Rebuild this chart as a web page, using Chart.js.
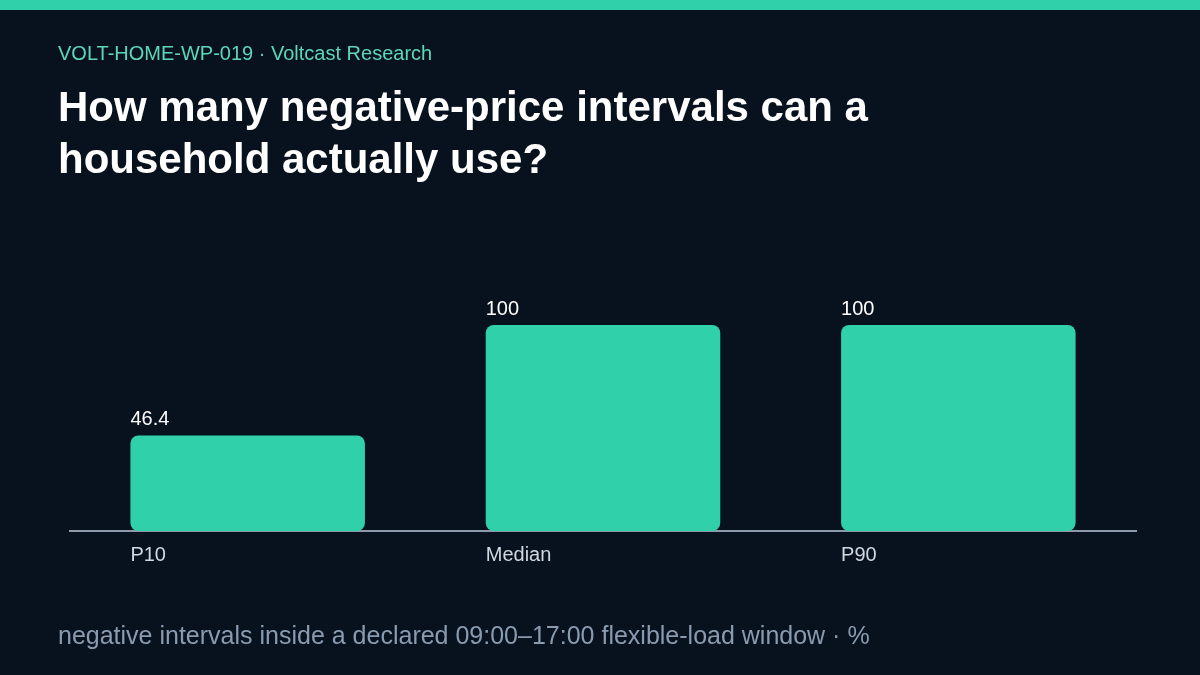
<!DOCTYPE html>
<html>
<head>
  <meta charset="utf-8" />
  <title>Negative-price intervals</title>
  <style>
    html, body { margin: 0; padding: 0; background: #08121e; }
    body { width: 1200px; height: 675px; position: relative; overflow: hidden; font-family: "Liberation Sans", Arial, sans-serif; }
    .stripe { position: absolute; left: 0; top: 0; width: 1200px; height: 10px; background: #2fd0aa; }
    .kicker { position: absolute; left: 58px; top: 41px; font-size: 20px; line-height: 24px; color: #5ed6b8; }
    h1 { position: absolute; left: 58px; top: 81px; margin: 0; font-size: 42px; line-height: 52px; font-weight: bold; color: #ffffff; }
    .note { position: absolute; left: 58px; top: 620px; font-size: 25px; line-height: 30px; color: #8a9bb0; }
    #stage { position: absolute; left: 0; top: 0; }
  </style>
</head>
<body>
  <div class="stripe"></div>
  <canvas id="stage" width="1200" height="675"></canvas>
  <div class="kicker">VOLT-HOME-WP-019 · Voltcast Research</div>
  <h1>How many negative-price intervals can a<br>household actually use?</h1>
  <div class="note">negative intervals inside a declared 09:00–17:00 flexible-load window · %</div>

  <script src="https://cdn.jsdelivr.net/npm/chart.js@4.4.0/dist/chart.umd.min.js"></script>
  <script>
    // 値
    const categories = ['P10', 'Median', 'P90'];
    const shares = [46.4, 100, 100];

    // バーの上の数値と下のカテゴリ名を左揃えで描く
    const barText = {
      id: 'barText',
      afterDatasetsDraw(chart) {
        const ctx = chart.ctx;
        const meta = chart.getDatasetMeta(0);
        ctx.save();
        ctx.font = '20px "Liberation Sans", Arial, sans-serif';
        ctx.textAlign = 'left';
        meta.data.forEach((bar, i) => {
          const left = bar.x - bar.width / 2;
          ctx.fillStyle = '#ffffff';
          ctx.textBaseline = 'bottom';
          ctx.fillText(String(shares[i]), left, bar.y - 6);
          ctx.fillStyle = '#d0d8e0';
          ctx.textBaseline = 'top';
          ctx.fillText(categories[i], left, chart.chartArea.bottom + 14);
        });
        ctx.restore();
      }
    };

    new Chart(document.getElementById('stage'), {
      type: 'bar',
      data: {
        labels: categories,
        datasets: [{
          data: shares,
          backgroundColor: '#2fd0aa',
          borderRadius: 8,
          borderSkipped: false,
          categoryPercentage: 0.66,
          barPercentage: 1.0
        }]
      },
      options: {
        responsive: false,
        animation: false,
        layout: { padding: { left: 70, right: 64, top: 325, bottom: 136 } },
        plugins: { legend: { display: false }, tooltip: { enabled: false } },
        scales: {
          x: {
            grid: { display: false },
            border: { display: true, color: '#8d9aab', width: 2 },
            ticks: { display: false }
          },
          y: {
            display: false,
            min: 0,
            max: 100
          }
        }
      },
      plugins: [barText]
    });
  </script>
</body>
</html>
